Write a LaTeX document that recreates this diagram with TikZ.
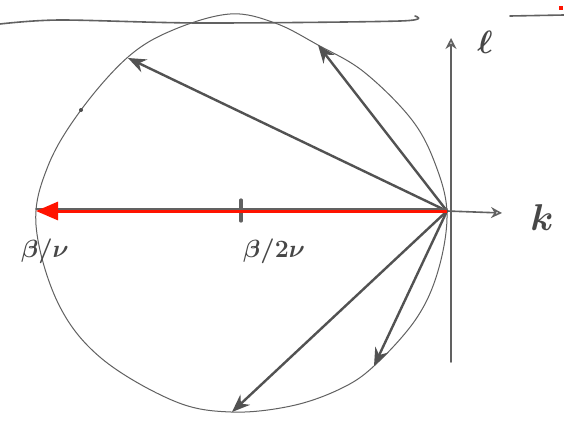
\documentclass[tikz,border=0pt]{standalone}
\usetikzlibrary{arrows.meta}
\begin{document}
\begin{tikzpicture}[x=1pt,y=-1pt,
  pen/.style={draw=black!62,line width=1.3pt,line cap=round,line join=round},
  vec/.style={pen,draw=black!68,line width=2.4pt,-{Stealth[length=18pt,width=14pt]}},
  axis/.style={pen,line width=1.6pt,-{Stealth[length=11pt,width=11pt,open]}},
  lab/.style={text=black!72,font=\fontsize{31}{34}\selectfont\boldmath,inner sep=0pt}]
\useasboundingbox (0,0) rectangle (564,434);
\fill[white] (0,0) rectangle (564,434);
% paper lines
\draw[pen,line width=1.6pt] plot[smooth] coordinates {(0,24) (60,20) (200,23) (400,21) (415,16)};
\draw[pen,line width=1.6pt] (510,16) -- (564,15);
\fill[red!85!orange] (559,6) rectangle (563,10);
% circle
\draw[pen,line width=1pt] plot[smooth cycle,tension=0.6] coordinates {
  (447,214) (438,271) (416,319) (374,366) (340,389) (291,406) (231,412) (174,401)
  (101,358) (58,303) (36,225) (48,166) (81,110) (128,57) (173,30) (230,14)
  (275,23) (318,45) (364,72) (412,120) (436,166)};
\fill[black!70] (81,110) circle (2pt);
% nodes
\coordinate (O) at (447,211);
\coordinate (A) at (128,58);
\coordinate (B) at (318,45);
\coordinate (C) at (374,366);
\coordinate (D) at (232,412);
\coordinate (L) at (36,211);
\coordinate (K) at (502,213);
\coordinate (Ltop) at (451,38);
\coordinate (Lbot) at (451,362);
\coordinate (T1) at (241,200);
\coordinate (T2) at (241,221);
% axes
\draw[axis] (Lbot) -- (Ltop);
\draw[axis] (O) -- (K);
% vectors
\draw[vec] (O) -- (A);
\draw[vec] (O) -- (B);
\draw[vec] (O) -- (C);
\draw[vec] (O) -- (D);
\draw[pen,line width=1.8pt] ([yshift=2pt]O) -- ([yshift=2pt]L);
\draw[pen,line width=3.2pt] (T1) -- (T2);
\draw[draw=red!85!orange,line width=3pt,-{Triangle[length=22pt,width=18pt]}] (O) -- (L);
% labels
\node[lab,scale=1.3] (l1) at (485,42) {$\ell$};
\node[lab,scale=1.5] (l2) at (542,218) {$k$};
\node[lab] (l3) at (45,251) {$\beta/\nu$};
\node[lab] (l4) at (274,251) {$\beta/2\nu$};
\end{tikzpicture}
\end{document}
